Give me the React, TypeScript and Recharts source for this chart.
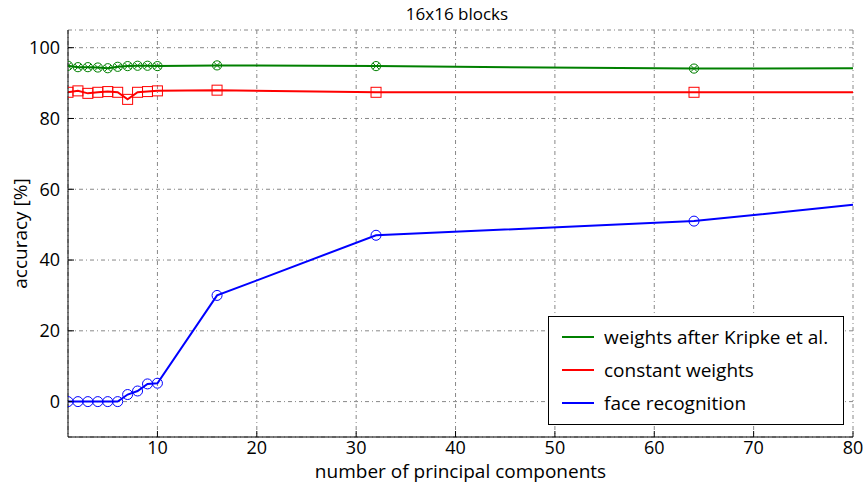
import React from 'react';
import { LineChart, Line, XAxis, YAxis, CartesianGrid } from 'recharts';

const FONT = '"Open Sans", sans-serif';
const W = 868;
const H = 489;

// number of principal components (the last one, 80, has no marker)
const COMPONENTS = [1, 2, 3, 4, 5, 6, 7, 8, 9, 10, 16, 32, 64, 80];
const KRIPKE = [94.9, 94.5, 94.5, 94.4, 94.2, 94.6, 94.8, 94.9, 94.9, 94.8, 95.0, 94.8, 94.1, 94.2];
const CONSTANT = [87.4, 87.8, 87.1, 87.4, 87.6, 87.4, 85.4, 87.4, 87.6, 87.8, 88.0, 87.4, 87.4, 87.4];
const FACE = [0, 0, 0, 0, 0, 0, 2, 3, 5, 5.2, 30, 47, 51, 55.6];

const X_TICKS = [10, 20, 30, 40, 50, 60, 70, 80];
const Y_TICKS = [0, 20, 40, 60, 80, 100];

const SERIES = [
  { key: 'kripke', name: 'weights after Kripke et al.', color: '#008000', marker: 'ox' },
  { key: 'constant', name: 'constant weights', color: '#ff0000', marker: 'square' },
  { key: 'face', name: 'face recognition', color: '#0000ff', marker: 'circle' },
];

const data = COMPONENTS.map((n, i) => ({ n, kripke: KRIPKE[i], constant: CONSTANT[i], face: FACE[i] }));
const LAST = COMPONENTS.length - 1;

const makeDot = (marker: string, color: string) => (p: any) => {
  const { cx, cy, index } = p;
  if (index === LAST || cx == null || cy == null) return <g key={index} />;
  if (marker === 'square')
    return <rect key={index} x={cx - 5} y={cy - 5} width={10} height={10} fill="none" stroke={color} strokeWidth={1} />;
  if (marker === 'ox') {
    const d = 3.2;
    return (
      <g key={index} stroke={color} strokeWidth={1} fill="none">
        <circle cx={cx} cy={cy} r={4.6} />
        <line x1={cx - d} y1={cy - d} x2={cx + d} y2={cy + d} />
        <line x1={cx - d} y1={cy + d} x2={cx + d} y2={cy - d} />
      </g>
    );
  }
  return <circle key={index} cx={cx} cy={cy} r={5} fill="none" stroke={color} strokeWidth={1} />;
};

const tickFont = { fill: '#000', fontSize: 18, fontFamily: FONT };

export default function App() {
  return (
    <div style={{ position: 'relative', width: W, height: H, background: '#fff', fontFamily: FONT }}>
      <style>{'body{margin:0}'}</style>
      <div style={{ position: 'absolute', left: 0, width: 914, top: 2, textAlign: 'center', fontSize: 17, color: '#000' }}>
        16x16 blocks
      </div>
      <LineChart width={W} height={H} data={data} margin={{ top: 30, right: 15, bottom: 0, left: 8 }}>
        <CartesianGrid stroke="#888" strokeDasharray="4 3 1 3" strokeWidth={1} />
        <XAxis dataKey="n" type="number" domain={[1, 80]} ticks={X_TICKS} allowDataOverflow
          height={52} tickSize={-6} tickMargin={10} axisLine={{ stroke: '#000' }} tickLine={{ stroke: '#000' }}
          tick={tickFont}
          label={{ value: 'number of principal components', position: 'insideBottom', offset: 11, fill: '#000', fontSize: 19, fontFamily: FONT }} />
        <XAxis xAxisId="top" dataKey="n" type="number" orientation="top" domain={[1, 80]} ticks={X_TICKS} allowDataOverflow
          height={0} tickSize={-6} tick={false} axisLine={{ stroke: '#000' }} tickLine={{ stroke: '#000' }} />
        <YAxis type="number" domain={[-10, 105]} ticks={Y_TICKS} allowDataOverflow width={60}
          tickSize={-6} tickMargin={14} axisLine={{ stroke: '#000' }} tickLine={{ stroke: '#000' }}
          tick={tickFont}
          label={{ value: 'accuracy [%]', angle: -90, position: 'insideLeft', offset: 12, style: { textAnchor: 'middle' }, fill: '#000', fontSize: 19, fontFamily: FONT }} />
        <YAxis yAxisId="right" type="number" orientation="right" domain={[-10, 105]} ticks={Y_TICKS} allowDataOverflow
          width={0} tickSize={-6} tick={false} axisLine={{ stroke: '#000' }} tickLine={{ stroke: '#000' }} />
        {SERIES.map(s => (
          <Line key={s.key} dataKey={s.key} name={s.name} type="linear" stroke={s.color} strokeWidth={2}
            dot={makeDot(s.marker, s.color)} activeDot={false} isAnimationActive={false} />
        ))}
      </LineChart>
      {/* legend box */}
      <div style={{ position: 'absolute', left: 548, top: 316, width: 294, height: 107, border: '1px solid #000', background: '#fff' }}>
        {SERIES.map((s, i) => (
          <div key={s.key} style={{ position: 'absolute', left: 0, top: 7 + i * 33, height: 26, display: 'flex', alignItems: 'center' }}>
            <div style={{ marginLeft: 13, width: 32, height: 2, background: s.color }} />
            <div style={{ marginLeft: 10, fontSize: 19, color: '#000', whiteSpace: 'nowrap' }}>{s.name}</div>
          </div>
        ))}
      </div>
    </div>
  );
}
